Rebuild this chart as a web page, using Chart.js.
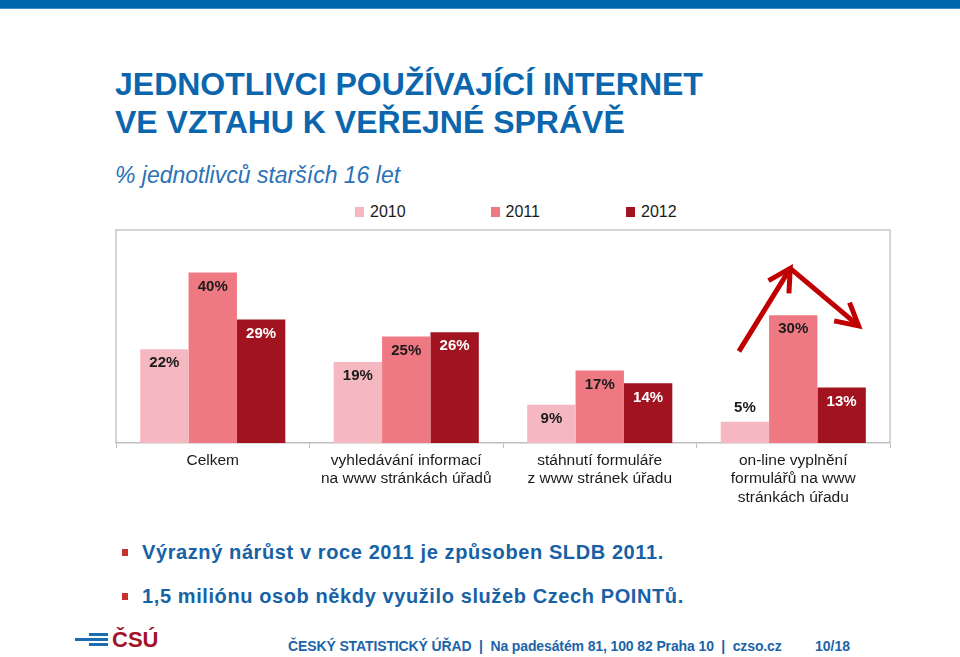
<!DOCTYPE html>
<html lang="cs">
<head>
<meta charset="utf-8">
<title>Jednotlivci používající internet ve vztahu k veřejné správě</title>
<script src="https://cdn.jsdelivr.net/npm/chart.js@4"></script>
<style>
    html, body { margin: 0; padding: 0; background: #fff; }
    body { width: 960px; height: 657px; position: relative; overflow: hidden; font-family: "Liberation Sans", Arial, sans-serif; }
    .topbar { position: absolute; left: 0; top: 0; width: 960px; height: 8px; background: #0066ad; border-bottom: 1px solid #3d8fc8; }
    .title { position: absolute; left: 115px; top: 65px; font-size: 32px; line-height: 38px; font-weight: bold; color: #0b66ae; }
    .subtitle { position: absolute; left: 115px; top: 162px; font-size: 23px; line-height: 26px; font-style: italic; color: #2b72b6; }
    .legend { position: absolute; left: 355px; top: 203px; display: flex; font-size: 16px; line-height: 18px; color: #1a1a1a; }
    .legend-item { width: 135.5px; display: flex; align-items: center; }
    .legend-box { width: 9px; height: 10px; margin-right: 6px; }
    #chartWrap { position: absolute; left: 100px; top: 222px; width: 820px; height: 291px; }
    .bullets { position: absolute; left: 142px; top: 540px; font-size: 20px; line-height: 24px; color: #1762a6; font-weight: bold; letter-spacing: 0.6px; white-space: nowrap; }
    .bullets div { position: relative; margin-bottom: 20px; }
    .bullets div::before { content: ""; position: absolute; left: -20px; top: 9px; width: 6px; height: 7px; background: #c8302c; }
    .logo { position: absolute; left: 75px; top: 626px; width: 90px; height: 26px; }
    .stripe { position: absolute; height: 3px; background: #1b6db3; }
    .logo-text { position: absolute; left: 37px; top: 1px; font-size: 22px; font-weight: bold; color: #a3122a; line-height: 26px; }
    .footer { position: absolute; left: 288px; top: 637px; font-size: 14px; font-weight: bold; letter-spacing: -0.12px; line-height: 18px; color: #1c63a8; white-space: pre; }
    .page { position: absolute; left: 815px; top: 637px; font-size: 14px; font-weight: bold; line-height: 18px; color: #1c63a8; }
</style>
</head>
<body>
<div class="topbar"></div>
<div class="title">JEDNOTLIVCI POUŽÍVAJÍCÍ INTERNET<br>VE VZTAHU K VEŘEJNÉ SPRÁVĚ</div>
<div class="subtitle">% jednotlivců starších 16 let</div>
<div class="legend" id="legend"></div>
<div id="chartWrap"><canvas id="chart" width="820" height="291"></canvas></div>
<div class="bullets">
    <div>Výrazný nárůst v roce 2011 je způsoben SLDB 2011.</div>
    <div>1,5 miliónu osob někdy využilo služeb Czech POINTů.</div>
</div>
<div class="logo">
    <div class="stripe" style="left:14px; top:7px; width:19px;"></div>
    <div class="stripe" style="left:0; top:12px; width:33px;"></div>
    <div class="stripe" style="left:14px; top:17px; width:19px;"></div>
    <div class="logo-text">ČSÚ</div>
</div>
<div class="footer">ČESKÝ STATISTICKÝ ÚŘAD  |  Na padesátém 81, 100 82 Praha 10  |  czso.cz</div>
<div class="page">10/18</div>

<script>
const categories = [
    ['Celkem'],
    ['vyhledávání informací', 'na www stránkách úřadů'],
    ['stáhnutí formuláře', 'z www stránek úřadu'],
    ['on-line vyplnění', 'formulářů na www', 'stránkách úřadu']
];
const years = ['2010', '2011', '2012'];
const values2010 = [22, 19, 9, 5];
const values2011 = [40, 25, 17, 30];
const values2012 = [29, 26, 14, 13];
const barColors = ['#f5b8c0', '#ef7983', '#a0131f'];
const labelColors = ['#1a1a1a', '#1a1a1a', '#ffffff'];
// levels (in %) of the hand drawn arrow over the last group: start, peak, end
const arrowLevels = [21.5, 41, 27.5];

const series = [values2010, values2011, values2012];

const legendEl = document.getElementById('legend');
years.forEach((y, i) => {
    const item = document.createElement('div');
    item.className = 'legend-item';
    item.innerHTML = '<span class="legend-box" style="background:' + barColors[i] + '"></span>' + y;
    legendEl.appendChild(item);
});

const frameBorder = {
    id: 'frameBorder',
    beforeDatasetsDraw(chart) {
        const { ctx, chartArea: a } = chart;
        ctx.save();
        ctx.strokeStyle = '#c6c6c6';
        ctx.lineWidth = 1.5;
        ctx.beginPath();
        ctx.moveTo(a.left, a.bottom);
        ctx.lineTo(a.left, a.top);
        ctx.lineTo(a.right, a.top);
        ctx.lineTo(a.right, a.bottom);
        ctx.stroke();
        ctx.restore();
    }
};

const barLabels = {
    id: 'barLabels',
    afterDatasetsDraw(chart) {
        const ctx = chart.ctx;
        ctx.save();
        ctx.font = 'bold 15px "Liberation Sans", Arial, sans-serif';
        ctx.textAlign = 'center';
        ctx.textBaseline = 'middle';
        chart.data.datasets.forEach((ds, i) => {
            chart.getDatasetMeta(i).data.forEach((bar, j) => {
                const h = bar.base - bar.y;
                let y, color;
                if (h >= 30) { y = bar.y + 14; color = labelColors[i]; }
                else { y = bar.y - 14; color = '#1a1a1a'; }
                ctx.fillStyle = color;
                ctx.fillText(ds.data[j] + '%', bar.x, y);
            });
        });
        ctx.restore();
    }
};

const drawArrow = (ctx, from, to) => {
    ctx.beginPath();
    ctx.moveTo(from.x, from.y);
    ctx.lineTo(to.x, to.y);
    ctx.stroke();
    const ang = Math.atan2(to.y - from.y, to.x - from.x);
    const len = 25, spread = 0.5;
    ctx.beginPath();
    ctx.moveTo(to.x - len * Math.cos(ang - spread), to.y - len * Math.sin(ang - spread));
    ctx.lineTo(to.x, to.y);
    ctx.lineTo(to.x - len * Math.cos(ang + spread), to.y - len * Math.sin(ang + spread));
    ctx.stroke();
};

const trendArrow = {
    id: 'trendArrow',
    afterDatasetsDraw(chart) {
        const ctx = chart.ctx;
        const last = categories.length - 1;
        const b = [0, 1, 2].map(i => chart.getDatasetMeta(i).data[last]);
        const ys = chart.scales.y;
        const start = { x: b[0].x - 6, y: ys.getPixelForValue(arrowLevels[0]) };
        const peak = { x: b[1].x - 3, y: ys.getPixelForValue(arrowLevels[1]) };
        const end = { x: b[2].x + 17, y: ys.getPixelForValue(arrowLevels[2]) };
        ctx.save();
        ctx.strokeStyle = '#c00000';
        ctx.lineWidth = 5;
        ctx.lineJoin = 'miter';
        ctx.lineCap = 'butt';
        drawArrow(ctx, start, peak);
        drawArrow(ctx, peak, end);
        ctx.restore();
    }
};

new Chart(document.getElementById('chart'), {
    type: 'bar',
    data: {
        labels: categories,
        datasets: years.map((y, i) => ({
            label: y,
            data: series[i],
            backgroundColor: barColors[i],
            borderWidth: 0,
            categoryPercentage: 0.75,
            barPercentage: 1
        }))
    },
    options: {
        responsive: false,
        animation: false,
        layout: { padding: { left: 16, top: 8, right: 30, bottom: 0 } },
        plugins: { legend: { display: false }, tooltip: { enabled: false } },
        scales: {
            x: {
                grid: { display: true, drawOnChartArea: false, drawTicks: true, tickLength: 5, color: '#bfbfbf', offset: true },
                border: { display: true, color: '#bfbfbf', width: 1.5 },
                ticks: {
                    color: '#1a1a1a',
                    padding: 4,
                    autoSkip: false,
                    maxRotation: 0,
                    font: { family: '"Liberation Sans", Arial, sans-serif', size: 15.5, lineHeight: 1.17 }
                },
                afterFit: (scale) => { scale.height = 70; }
            },
            y: { display: false, min: 0, max: 50 }
        }
    },
    plugins: [frameBorder, barLabels, trendArrow]
});
</script>
</body>
</html>
